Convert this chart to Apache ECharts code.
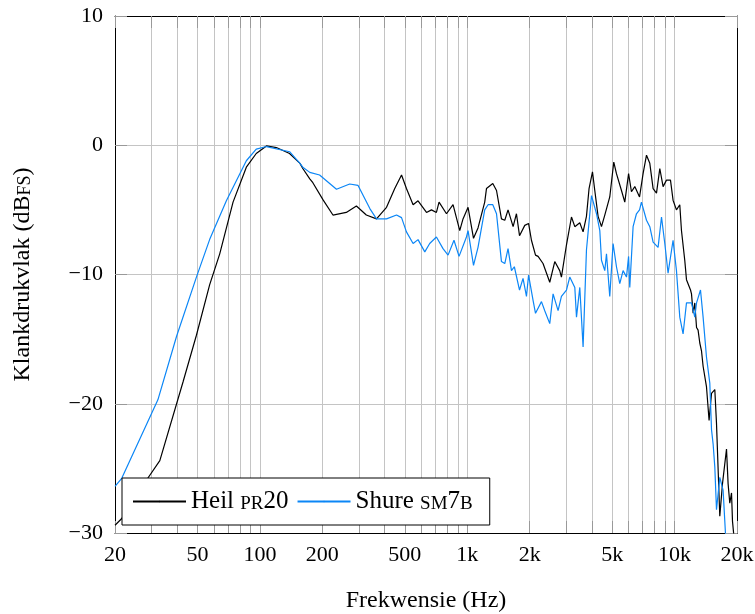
<!DOCTYPE html>
<html>
<head>
<meta charset="utf-8">
<script src="https://cdn.jsdelivr.net/npm/echarts@6/dist/echarts.min.js"></script>
<style>
  html, body { margin: 0; padding: 0; background: #fff; }
  #chart { width: 755px; height: 614px; }
</style>
</head>
<body>
<div id="chart"></div>
<script>
// frequency (Hz) / level (dBFS) pairs
const heilFreq = [20, 21.5, 28.4, 32.9, 42.6, 49.4, 57.2, 64, 74.2, 86, 96, 107.5, 120, 139, 156, 161, 174, 180,
  202, 225, 261, 292, 326, 365, 408, 447, 482, 509, 548, 579, 636, 672, 710, 731, 794, 854, 920, 954,
  1009, 1072, 1127, 1214, 1238, 1328, 1384, 1462, 1517, 1573, 1664, 1727, 1787, 1894, 1976, 2040, 2134,
  2196, 2320, 2500, 2643, 2792, 2846, 3010, 3182, 3302, 3490, 3620, 3758, 3868, 4018, 4122, 4276, 4440,
  4606, 4868, 5090, 5244, 5544, 5752, 6000, 6194, 6428, 6776, 7048, 7320, 7594, 7878, 8180, 8486, 8802,
  9140, 9554, 9832, 10210, 10594, 10794, 11196, 11412, 11936, 12066, 12286, 12516, 12760, 12982, 13230,
  13482, 13726, 14254, 14670, 15068, 15632, 15926, 16522, 17020, 17800, 18120, 18460, 18820, 19026, 19520, 20000];
const heilDb = [-29.4, -28.9, -25.9, -24.4, -18.3, -14.7, -10.8, -8.4, -4.4, -1.7, -0.64, -0.05, -0.18, -0.64, -1.4, -1.8, -2.6, -2.9,
  -4.25, -5.4, -5.2, -4.7, -5.4, -5.7, -4.8, -3.35, -2.3, -3.35, -4.6, -4.3, -5.2, -5.0, -5.2, -4.4, -5.3, -4.6, -6.6, -5.7,
  -4.8, -7.2, -6.4, -4.4, -3.35, -2.96, -3.5, -5.7, -5.8, -5.0, -6.3, -5.3, -7.0, -6.2, -6.05, -7.35, -8.5,
  -8.6, -9.15, -10.6, -9.0, -9.7, -10.2, -7.7, -5.55, -6.3, -6.0, -6.7, -5.5, -3.35, -2.06, -3.5, -5.5, -6.3,
  -5.4, -4.0, -1.3, -2.2, -3.5, -4.4, -2.2, -3.6, -3.2, -4.0, -2.2, -0.77, -1.4, -3.35, -3.7, -1.8, -3.2,
  -2.7, -2.7, -4.25, -5.0, -4.6, -6.6, -8.9, -10.4, -11.2, -11.5, -13.0, -12.2, -14.1, -14.3, -15.3,
  -15.9, -17.1, -18.7, -21.3, -19.2, -18.9, -21.5, -28.7, -26.2, -23.5, -26.2, -27.7, -26.9, -29.1, -31, -31];

const shureFreq = [20, 21.5, 32.2, 39.6, 49.4, 57.2, 68.9, 86, 96, 107.5, 139, 156, 161, 174, 194, 234, 271, 297,
  339, 365, 408, 456, 482, 509, 548, 579, 624, 659, 710, 764, 808, 863, 913, 991, 1009, 1072, 1127, 1214,
  1260, 1328, 1384, 1462, 1517, 1573, 1634, 1687, 1787, 1858, 1930, 1976, 2077, 2134, 2280, 2365, 2500,
  2594, 2742, 2846, 3010, 3122, 3302, 3364, 3490, 3620, 3758, 3974, 4202, 4358, 4440, 4606, 4694, 4868,
  5050, 5244, 5440, 5644, 5862, 6000, 6080, 6308, 6548, 6776, 6920, 7320, 7594, 7878, 8326, 8648, 8970,
  9302, 9832, 10210, 10594, 10990, 11412, 12066, 12516, 12760, 13334, 13726, 14254, 14786, 15068, 15338,
  15632, 15926, 16522, 17140, 17660, 18000];
const shureDb = [-26.4, -25.8, -19.7, -14.8, -10.2, -7.3, -4.3, -1.2, -0.3, -0.1, -0.5, -1.4, -1.7, -2.1, -2.3, -3.4, -3.0, -3.1,
  -4.9, -5.7, -5.7, -5.4, -5.6, -6.7, -7.6, -7.3, -8.25, -7.6, -7.1, -8.0, -8.5, -7.35, -8.6, -7.1, -6.6, -9.3, -7.9, -5.0,
  -4.6, -4.6, -5.3, -9.0, -9.15, -8.0, -9.7, -9.4, -11.2, -10.3, -11.7, -10.05, -12.0, -13.0, -12.1, -12.8, -13.8,
  -11.5, -12.8, -11.7, -11.2, -10.2, -11.0, -13.3, -11.0, -15.6, -8.1, -3.9, -5.3, -6.6, -8.9, -9.7, -8.4, -11.7,
  -7.6, -9.4, -10.7, -9.7, -10.2, -8.6, -11.0, -6.3, -5.3, -5.0, -4.4, -5.8, -6.3, -7.5, -7.9, -5.55, -7.6,
  -9.9, -7.35, -9.7, -13.3, -14.6, -12.2, -12.2, -13.3, -12.2, -11.2, -13.3, -16.4, -18.4, -22.0, -23.1,
  -24.9, -28.2, -25.7, -26.7, -30.5, -31];

const xTicks = [20, 30, 40, 50, 60, 70, 80, 90, 100, 200, 300, 400, 500, 600, 700, 800, 900,
  1000, 2000, 3000, 4000, 5000, 6000, 7000, 8000, 9000, 10000, 20000];
const xLabels = [20, 50, 100, 200, 500, 1000, 2000, 5000, 10000, 20000];

const font = 'Liberation Serif';
const pair = (fs, ds) => fs.map((f, i) => [f, ds[i]]);

const xFmt = v => {
  v = Math.round(v);
  return v >= 1000 ? (v / 1000) + 'k' : String(v);
};
const yFmt = v => (v < 0 ? '\u2212' + Math.abs(v) : String(v));

// regular text + small caps, sharing a baseline
const richText = (size, sc) => ({
  n: { fontFamily: font, fontSize: size, color: '#000' },
  sc: { fontFamily: font, fontSize: sc, color: '#000', padding: [Math.round((size - sc) * 0.8), 0, 0, 0] }
});

const xBase = {
  type: 'log', logBase: 10, min: 20, max: 20000,
  axisLine: { show: true, onZero: false, lineStyle: { color: '#000', width: 1 } },
  axisTick: { show: true, inside: true, length: 12, customValues: xTicks, lineStyle: { color: '#999' } }
};
const yBase = {
  type: 'value', min: -30, max: 10, interval: 10,
  axisLine: { show: true, onZero: false, lineStyle: { color: '#000', width: 1 } },
  axisTick: { show: true, inside: true, length: 12, lineStyle: { color: '#999' } }
};

const chart = echarts.init(document.getElementById('chart'));
chart.setOption({
  animation: false,
  grid: { left: 115, right: 18, top: 16, bottom: 81, outerBoundsMode: 'none', containLabel: false },
  xAxis: [
    Object.assign({}, xBase, {
      position: 'bottom',
      name: 'Frekwensie (Hz)', nameLocation: 'middle', nameGap: 56,
      nameTextStyle: { fontFamily: font, fontSize: 24, color: '#000' },
      axisLabel: { customValues: xLabels, formatter: xFmt, margin: 11, fontFamily: font, fontSize: 22, color: '#000' },
      splitLine: { show: true, lineStyle: { color: '#c4c4c4', width: 1 } }
    }),
    Object.assign({}, xBase, {
      position: 'top',
      axisLabel: { show: false },
      splitLine: { show: false }
    })
  ],
  yAxis: [
    Object.assign({}, yBase, {
      position: 'left',
      name: '{n|Klankdrukvlak (dB}{sc|FS}{n|)}', nameLocation: 'middle', nameGap: 80,
      nameTextStyle: { rich: richText(24, 18) },
      axisLabel: { formatter: yFmt, margin: 12, fontFamily: font, fontSize: 22, color: '#000' },
      splitLine: { show: true, lineStyle: { color: '#c4c4c4', width: 1 } }
    }),
    Object.assign({}, yBase, {
      position: 'right',
      axisLabel: { show: false },
      splitLine: { show: false }
    })
  ],
  legend: {
    left: 122, top: 478,
    orient: 'horizontal',
    padding: [11, 17, 11, 10],
    itemGap: 8,
    itemWidth: 53, itemHeight: 2,
    backgroundColor: '#fff',
    borderColor: '#000', borderWidth: 1, borderRadius: 0,
    data: ['Heil PR20', 'Shure SM7B'],
    formatter: name => name === 'Heil PR20'
      ? '{n|Heil }{sc|PR}{n|20}'
      : '{n|Shure }{sc|SM}{n|7}{sc|B}',
    textStyle: { rich: richText(25, 19) }
  },
  series: [
    {
      name: 'Heil PR20', type: 'line', xAxisIndex: 0, yAxisIndex: 0,
      data: pair(heilFreq, heilDb),
      symbol: 'none', smooth: false, clip: true,
      lineStyle: { color: '#000', width: 1.2 },
      itemStyle: { color: '#000' }
    },
    {
      name: 'Shure SM7B', type: 'line', xAxisIndex: 0, yAxisIndex: 0,
      data: pair(shureFreq, shureDb),
      symbol: 'none', smooth: false, clip: true,
      lineStyle: { color: '#0b86f6', width: 1.2 },
      itemStyle: { color: '#0b86f6' }
    }
  ]
});
</script>
</body>
</html>
